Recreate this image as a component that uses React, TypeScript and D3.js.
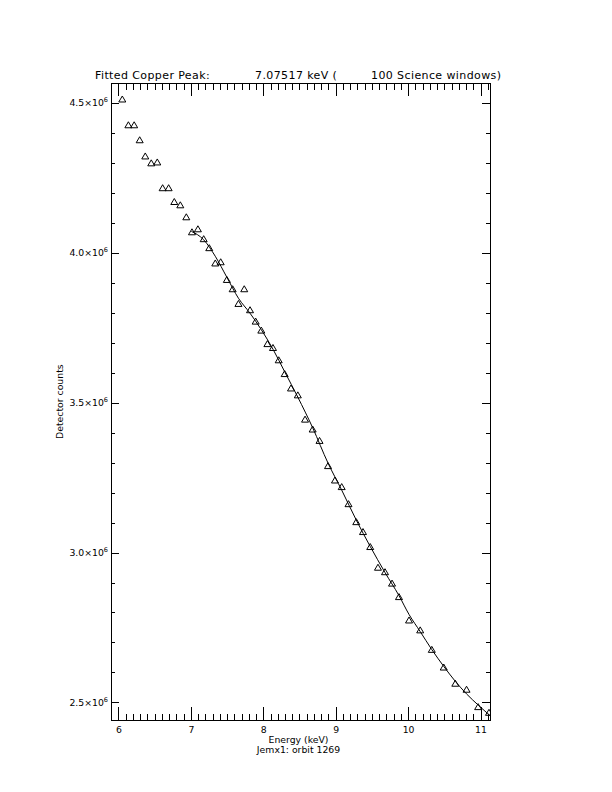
import React from "react";
import * as d3 from "d3";

const energy = [6.046, 6.13, 6.21, 6.286, 6.363, 6.446, 6.529, 6.603, 6.686, 6.764, 6.847, 6.93, 7.008, 7.09, 7.17, 7.247, 7.33, 7.405, 7.49, 7.57, 7.65, 7.73, 7.81, 7.888, 7.966, 8.05, 8.127, 8.206, 8.288, 8.376, 8.47, 8.57, 8.675, 8.77, 8.887, 8.983, 9.076, 9.17, 9.277, 9.37, 9.47, 9.577, 9.674, 9.771, 9.867, 10.006, 10.16, 10.32, 10.485, 10.645, 10.8, 10.96, 11.11];
const counts = [4.514, 4.428, 4.428, 4.378, 4.324, 4.301, 4.304, 4.218, 4.218, 4.172, 4.161, 4.121, 4.071, 4.081, 4.048, 4.018, 3.967, 3.971, 3.912, 3.881, 3.832, 3.881, 3.811, 3.773, 3.743, 3.698, 3.685, 3.644, 3.598, 3.55, 3.527, 3.446, 3.413, 3.375, 3.291, 3.243, 3.221, 3.164, 3.104, 3.071, 3.021, 2.952, 2.937, 2.899, 2.854, 2.776, 2.743, 2.678, 2.619, 2.565, 2.545, 2.487, 2.468].map((v) => v * 1e6);

const fitEnergy = [7.0, 7.17, 7.33, 7.49, 7.65, 7.81, 7.966, 8.127, 8.288, 8.47, 8.675, 8.887, 9.076, 9.277, 9.47, 9.674, 9.867, 10.006, 10.16, 10.32, 10.485, 10.645, 10.8, 10.96, 11.124];
const fitCounts = [4.073, 4.045, 3.99, 3.92, 3.85, 3.8, 3.745, 3.68, 3.605, 3.52, 3.418, 3.3, 3.21, 3.11, 3.022, 2.935, 2.858, 2.795, 2.738, 2.678, 2.622, 2.572, 2.53, 2.493, 2.458].map((v) => v * 1e6);

const xMajorTicks = [6, 7, 8, 9, 10, 11];
const xTickLabels = ["6", "7", "8", "9", "10", "11"];
const yMajorTicks = [2.5e6, 3.0e6, 3.5e6, 4.0e6, 4.5e6];
const yTickMantissa = ["2.5", "3.0", "3.5", "4.0", "4.5"];
const yTickExponent = "6";

const titleParts = ["Fitted Copper Peak:", "7.07517 keV (", "100 Science windows)"];
const xTitle = "Energy (keV)";
const subTitle = "Jemx1: orbit 1269";
const yTitle = "Detector counts";

export default function App() {
  const L = 111, R = 490, T = 83.3, B = 720;
  const x = d3.scaleLinear().domain([5.89, 11.124]).range([L, R]);
  const y = d3.scaleLinear().domain([2.443e6, 4.567e6]).range([B, T]);

  const xMinor: number[] = [];
  for (let i = 59; i <= 111; i++) {
    if (i % 10 !== 0) xMinor.push(i / 10);
  }
  const yMinor: number[] = [];
  for (let i = 25; i <= 45; i++) {
    if (i % 5 !== 0) yMinor.push(i * 1e5);
  }

  const xMajLen = 12.7, xMinLen = 6.4, yMajLen = 7.6, yMinLen = 3.8;

  const fitLine = d3
    .line<number>()
    .x((_, i) => x(fitEnergy[i]))
    .y((_, i) => y(fitCounts[i]))
    .curve(d3.curveMonotoneX)(fitCounts);

  const font = "'DejaVu Sans', sans-serif";

  return (
    <svg width={612} height={792} style={{ position: "absolute", left: 0, top: 0, background: "#fff" }} fontFamily={font}>
      <rect x={0} y={0} width={612} height={792} fill="#fff" />
      <defs>
        <clipPath id="plotclip">
          <rect x={L} y={T} width={R - L} height={B - T} />
        </clipPath>
      </defs>
      <g stroke="#000" strokeWidth={1} shapeRendering="crispEdges" fill="none">
        <rect x={L} y={T} width={R - L} height={B - T} />
        {xMajorTicks.map((v) => (
          <g key={"xm" + v}>
            <line x1={x(v)} x2={x(v)} y1={B} y2={B - xMajLen} />
            <line x1={x(v)} x2={x(v)} y1={T} y2={T + xMajLen} />
          </g>
        ))}
        {xMinor.map((v) => (
          <g key={"xn" + v}>
            <line x1={x(v)} x2={x(v)} y1={B} y2={B - xMinLen} />
            <line x1={x(v)} x2={x(v)} y1={T} y2={T + xMinLen} />
          </g>
        ))}
        {yMajorTicks.map((v) => (
          <g key={"ym" + v}>
            <line x1={L} x2={L + yMajLen} y1={y(v)} y2={y(v)} />
            <line x1={R} x2={R - yMajLen} y1={y(v)} y2={y(v)} />
          </g>
        ))}
        {yMinor.map((v) => (
          <g key={"yn" + v}>
            <line x1={L} x2={L + yMinLen} y1={y(v)} y2={y(v)} />
            <line x1={R} x2={R - yMinLen} y1={y(v)} y2={y(v)} />
          </g>
        ))}
      </g>
      <g clipPath="url(#plotclip)">
        <path d={fitLine || ""} fill="none" stroke="#000" strokeWidth={1} />
        {energy.map((e, i) => {
          const cx = x(e), cy = y(counts[i]);
          return (
            <path
              key={"p" + i}
              d={`M${cx - 3.5},${cy + 2.8}L${cx},${cy - 3.2}L${cx + 3.5},${cy + 2.8}Z`}
              fill="none"
              stroke="#000"
              strokeWidth={1}
            />
          );
        })}
      </g>
      <g fontSize={9.3} fill="#000">
        {xMajorTicks.map((v, i) => (
          <text key={"xl" + v} x={x(v)} y={733} textAnchor="middle">
            {xTickLabels[i]}
          </text>
        ))}
        {yMajorTicks.map((v, i) => (
          <text key={"yl" + v} x={L - 3} y={y(v) + 3} textAnchor="end">
            <tspan>{yTickMantissa[i]}×10</tspan>
            <tspan fontSize={6.5} dy={-4}>{yTickExponent}</tspan>
          </text>
        ))}
        <text x={(L + R) / 2 - 2} y={743} textAnchor="middle">{xTitle}</text>
        <text x={(L + R) / 2 - 2} y={753} textAnchor="middle">{subTitle}</text>
        <text transform={`translate(63,${(T + B) / 2}) rotate(-90)`} textAnchor="middle">{yTitle}</text>
      </g>
      <text fontSize={11} y={79} fill="#000" letterSpacing={0.4}>
        <tspan x={95}>{titleParts[0]}</tspan>
        <tspan x={255}>{titleParts[1]}</tspan>
        <tspan x={371}>{titleParts[2]}</tspan>
      </text>
    </svg>
  );
}
